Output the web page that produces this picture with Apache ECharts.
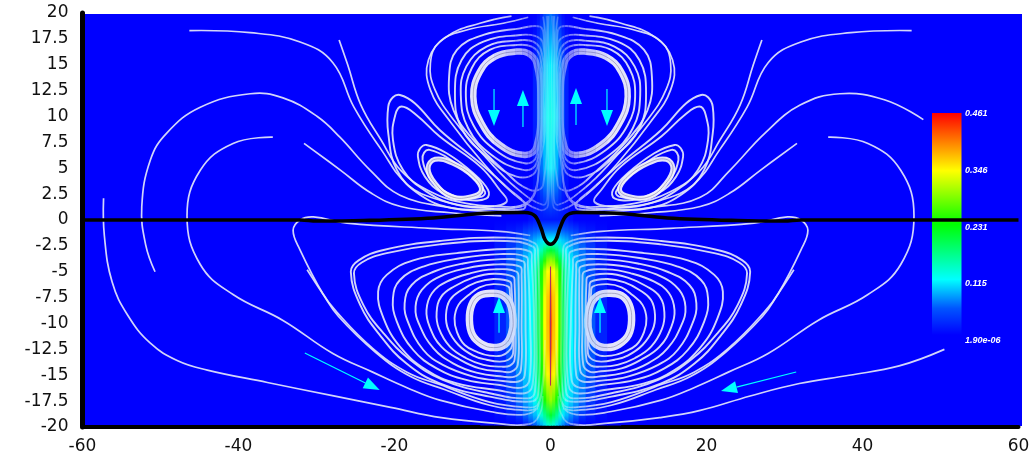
<!DOCTYPE html>
<html><head><meta charset="utf-8">
<style>html,body{margin:0;padding:0;background:#fff}#c{width:1036px;height:457px}</style>
<script src="https://cdn.jsdelivr.net/npm/echarts@6/dist/echarts.min.js"></script>
</head><body><div id="c"></div>
<script>
const xTicksMin=-60,xTicksMax=60,xInterval=20,yMin=-20,yMax=20,yInterval=2.5;
const legendValues=['0.461','0.346','0.231','0.115','1.90e-06'];
// surface: column offsets from x=0, row heights, magnitude per row
const fieldOffsets=[0,0.4,0.8,1.2,1.6,2,2.6,3.2,4,5,6.5,8];
const fieldRows=[20,15,10,5,2,0,-1,-2,-3,-4,-5,-7.5,-10,-12.5,-15,-17.5,-19,-20];
const fieldValues=[
[.05,.04,.03,.015,.005,0,0,0,0,0,0,0],
[.11,.10,.085,.06,.035,.015,0,0,0,0,0,0],
[.125,.12,.10,.07,.04,.015,0,0,0,0,0,0],
[.11,.10,.08,.05,.025,.01,0,0,0,0,0,0],
[.04,.035,.03,.02,.01,.005,0,0,0,0,0,0],
[.01,.01,.01,.01,.01,.01,.005,0,0,0,0,0],
[.05,.05,.05,.05,.04,.035,.03,.025,.015,.01,.004,0],
[.12,.115,.11,.1,.09,.08,.065,.05,.035,.02,.008,0],
[.21,.2,.18,.15,.13,.11,.09,.07,.05,.03,.012,0],
[.3,.29,.25,.2,.16,.13,.105,.085,.06,.035,.014,0],
[.36,.345,.31,.24,.18,.145,.115,.09,.065,.035,.014,0],
[.40,.37,.34,.25,.19,.15,.115,.095,.07,.04,.015,0],
[.42,.375,.345,.255,.195,.15,.115,.095,.07,.04,.015,0],
[.41,.37,.34,.25,.19,.15,.115,.095,.07,.04,.015,0],
[.37,.35,.31,.235,.18,.14,.11,.09,.065,.035,.014,0],
[.3,.28,.24,.19,.145,.12,.095,.075,.05,.025,.01,0],
[.21,.19,.165,.135,.105,.085,.065,.045,.025,.012,.004,0],
[.14,.13,.1,.08,.06,.04,.025,.01,0,0,0,0]];
// black interface curve
const interfaceX=[-60,-32,-30,-24,-15,-7.7,-3.3,-2,-1.2,-.7,0,.7,1.2,2,3.3,7.7,15,24,30,32,60];
const interfaceY=[0,0,-.1,-.05,.2,.68,.72,.4,-.8,-1.9,-2.35,-1.9,-.8,.4,.72,.68,.2,-.05,-.1,0,0];
// open streamlines
const up1=[[-46.3,18.3],[-38.5,18.1],[-32.1,17.2],[-27.9,15.2],[-25.2,10.9],[-21.7,6.8],[-18.3,3.4],[-14.1,1.9],[-8.9,1.2],[-4.4,1.2],[-2.5,1.9],[-1.6,3.9],[-1.2,9.7],[-.7,15.5],[-.3,19.7]];
const up2=[[-27.1,17.4],[-26,15],[-24.3,11.1],[-21.7,7.7],[-19.2,4.8],[-15.3,2.7],[-10.8,1.6],[-6.3,1.3],[-3.8,1.4],[-2.2,2.4],[-1.5,4.8],[-1.1,9.7],[-.6,15.5],[-.2,19.7]];
const big2Left=[[-50.7,-5],[-51.9,-2.4],[-52.4,1.3],[-51.3,5.8],[-49.2,8.4],[-44.9,10.9],[-38.5,12.2],[-34.3,11.8],[-29.9,10],[-27,8],[-23.1,4.8],[-19.3,2.4],[-12.9,1.2],[-7.8,.8],[-4.6,.7]];
const big2Right=[[47.8,9.7],[42.9,11.6],[37.1,12.2],[32,11.1],[27.5,8.4],[23,4.8],[19.2,2.2],[12.8,1.2],[7.6,.8],[4.4,.7]];
const up4=[[-31.6,7.4],[-26.9,4.8],[-23,2.6],[-19.2,1.3],[-12.8,.7],[-6.3,.4]];
const big3=[[-35.6,8],[-40.7,7.4],[-44.9,4.8],[-46.6,.4],[-44.9,-4.3],[-40.7,-7.2],[-34.3,-9.7],[-27.9,-12.9],[-22.8,-14.7],[-18.4,-16.2],[-14.2,-17.4],[-7.8,-18.5],[-3.3,-18.8],[-1.6,-18],[-.8,-14]];
const outerLeft=[[-57.3,2.1],[-57.2,-1.5],[-56.2,-6],[-54.2,-9.2],[-51.3,-11.9],[-47.8,-13.6],[-44,-14.5],[-36.3,-15.7],[-27.8,-17],[-20.5,-18.1],[-14,-19.1],[-7.7,-19.6],[-2.6,-19.7],[-1.3,-18.6],[-1,-17]];
const outerRight=[[50.5,-12.5],[44.7,-14.1],[38.3,-15],[31.9,-15.8],[25.6,-17],[19.2,-18.4],[14,-19.1],[7.7,-19.6],[2.6,-19.7],[1.3,-18.6],[1,-17]];
const separatrix=[[-2.6,-1.5],[-6.5,-1.1],[-15.4,-.8],[-26.1,-.3],[-30.4,.3],[-32.1,0],[-33,-1],[-32.1,-2.9],[-29.2,-7.1],[-27.4,-8.9],[-22.8,-12.4],[-18.4,-14.7],[-14.2,-15.9],[-7.8,-17.6],[-3,-18.1],[-1.7,-17.9],[-1.1,-16.4],[-.7,-11.6]];
const separatrix2=[[-31.2,-4.8],[-29.3,-7],[-27.2,-9.3],[-22.4,-12.8],[-18,-15.1],[-13.5,-16.4],[-7.8,-17.9],[-3.1,-18.4],[-1.6,-18.2]];
// upper cell, open ends at top
const capA=[[-2.85,19.59],[-6.05,19.01],[-10.75,18.36],[-14.2,17.23],[-15.4,15.14],[-14.8,12.57],[-12.25,9.51],[-8.2,5.97],[-4.35,3.07],[-.95,1.46],[-.4,2.26],[-.3,11.6],[-.6,17.4],[-.95,19.65]];
const capB=[[-5,19.7],[-9.05,19.01],[-13.3,17.72],[-15.65,15.46],[-15.4,12.57],[-12.7,9.35],[-8.6,5.48],[-4.8,2.58],[-1.35,.97],[-.3,1.46],[-.1,11.6],[-.3,18.04],[-.5,19.7]];
// closed cells, lower
const low1=[[-2,-2.25],[-5.6,-1.7],[-14.2,-2.03],[-21.4,-2.9],[-24.6,-3.9],[-25.6,-5],[-24.4,-8.2],[-21.9,-11.1],[-18.5,-13.85],[-14.2,-15.78],[-7.8,-17.07],[-2.6,-17.55],[-1.6,-16.9],[-1.4,-10.14],[-1.6,-3.4]];
const low2=[[-2.2,-2.6],[-5.6,-2.03],[-14.2,-2.35],[-21,-3.2],[-24.2,-4.1],[-25.2,-5.15],[-24,-8.2],[-21.4,-10.95],[-18,-13.5],[-13.8,-15.45],[-7.8,-16.74],[-2.9,-17.23],[-2,-16.58],[-1.8,-10.14],[-2,-3.55]];
const low3=[[-2.6,-3.06],[-5.6,-2.8],[-12,-3.2],[-17.6,-3.9],[-21,-5.3],[-22.1,-6.92],[-21.4,-9.5],[-19.3,-12.24],[-15.9,-14.5],[-12,-15.78],[-6.9,-16.42],[-3.3,-16.74],[-2.3,-15.94],[-2.1,-10.14],[-2.4,-4]];
const low4=[[-3.1,-3.55],[-6.5,-3.3],[-11.6,-3.7],[-16.3,-4.5],[-19.3,-5.8],[-20.2,-7.57],[-19.7,-9.82],[-17.6,-12.56],[-14.6,-14.33],[-10.8,-15.45],[-6.5,-15.94],[-3.7,-16.2],[-2.7,-15.45],[-2.6,-10.14],[-2.9,-4.35]];
const low5=[[-3.5,-4],[-6.9,-3.8],[-11.2,-4.2],[-15,-5],[-17.8,-6.28],[-18.7,-8.05],[-18.2,-9.98],[-16.3,-12.56],[-13.8,-14],[-9.9,-15.13],[-6.1,-15.55],[-4.1,-15.6],[-3.3,-15],[-3.2,-10.14],[-3.3,-4.83]];
const low6=[[-3.9,-4.5],[-7.3,-4.3],[-10.8,-4.67],[-14.2,-5.47],[-16.5,-6.76],[-17.3,-8.37],[-16.8,-10.14],[-15,-12.4],[-12.5,-13.85],[-9.5,-14.75],[-6.1,-15.13],[-4.6,-15.13],[-3.8,-14.5],[-3.7,-10.14],[-3.7,-5.3]];
const low7=[[-4.35,-5],[-7.3,-4.77],[-10.3,-5.15],[-13.3,-5.96],[-15.2,-7.08],[-15.9,-8.7],[-15.5,-10.3],[-14,-12.24],[-11.6,-13.5],[-9.1,-14.33],[-6.1,-14.65],[-5,-14.65],[-4.2,-14],[-4.1,-10.14],[-4.1,-5.8]];
const low8=[[-4.8,-5.47],[-7.3,-5.2],[-9.9,-5.57],[-12.3,-6.4],[-14,-7.4],[-14.6,-8.92],[-14.3,-10.5],[-12.9,-12.24],[-10.8,-13.36],[-8.6,-14],[-6.3,-14.17],[-5.2,-14.07],[-4.6,-13.5],[-4.5,-9.98],[-4.6,-6.1]];
const low9=[[-5.2,-5.96],[-7.3,-5.7],[-9.5,-6.02],[-11.4,-6.76],[-12.9,-7.73],[-13.4,-9.18],[-13.1,-10.6],[-11.8,-12.08],[-9.9,-13.1],[-8.2,-13.5],[-6.5,-13.68],[-5.4,-13.5],[-4.8,-12.88],[-4.8,-9.82],[-5,-6.6]];
const low10=[[-5.4,-6.44],[-7.3,-6.2],[-9.1,-6.5],[-10.5,-7.25],[-11.8,-8.2],[-12.3,-9.5],[-12,-10.8],[-11,-12.08],[-9.3,-12.78],[-7.8,-13.1],[-6.3,-13.1],[-5.4,-12.7],[-4.9,-12.08],[-4.9,-9.66],[-5.2,-7.08]];
const lowBand=[[-7.3,-7.08],[-9.1,-7.3],[-10.1,-8.2],[-10.4,-9.66],[-10,-11.1],[-8.8,-12],[-7.3,-12.33],[-5.8,-12],[-5,-10.95],[-4.8,-9.66],[-5.2,-8.05],[-6.1,-7.3]];
// closed cells, upper main
const upBand=[[-4.35,16.27],[-7.1,15.79],[-9.05,14.34],[-9.9,11.92],[-8.85,9.35],[-6.5,7.25],[-3.3,6.29],[-1.8,7.09],[-1.3,11.6],[-1.8,15.14],[-2.85,16.11]];
const upA=[[-4.35,16.91],[-7.8,16.43],[-10.1,14.66],[-10.85,11.92],[-9.9,9.18],[-7.1,6.77],[-3.3,5.48],[-1.8,6.13],[-.95,11.6],[-1.35,15.79],[-2.4,16.75]];
const upB=[[-4.35,17.33],[-8.2,16.75],[-10.8,14.82],[-11.5,12.08],[-10.55,8.86],[-7.55,6.29],[-3.5,4.84],[-1.8,5.48],[-.65,11.6],[-1.1,16.11],[-2.2,17.23]];
const upC=[[-3.9,17.88],[-8.6,17.23],[-11.4,15.46],[-12.25,12.24],[-11.4,8.86],[-8.2,6.13],[-4.35,4.19],[-1.8,4.84],[-.5,11.6],[-.95,17.07],[-2,17.78]];
const upD=[[-1.35,18.68],[-3.9,18.52],[-8.6,17.88],[-12,16.43],[-13,13.85],[-12.45,10.63],[-9.9,7.74],[-6.05,4.84],[-2.65,2.9],[-.95,3.39],[-.5,11.6],[-.85,17.72]];
// closed cells, small side vortex
const sideBand=[[-14.8,5.87],[-12.5,5.48],[-9.9,4.19],[-8.85,2.9],[-10.1,2.26],[-12.7,2.26],[-14.8,3.55],[-15.7,5]];
const side1=[[-15.9,7.25],[-13.3,6.45],[-9.9,4.52],[-8,2.9],[-8.2,2.1],[-10.8,1.94],[-13.8,2.58],[-16.1,4.19],[-17,6.13],[-16.7,6.93]];
const side2=[[-15.5,6.77],[-13.1,5.97],[-10.1,4.19],[-8.4,2.74],[-8.8,2.26],[-11.2,2.1],[-13.8,2.9],[-15.7,4.36],[-16.4,5.8],[-16.2,6.51]];
const side3=[[-19.1,10.96],[-17.2,10.15],[-14.2,8.06],[-9,5.16],[-6.5,2.9],[-5.6,1.78],[-7.8,1.3],[-12,1.46],[-15.9,2.74],[-18.9,4.84],[-20.2,7.74],[-19.9,10.15]];
const side4=[[-19.3,12.08],[-17.4,11.28],[-14.2,8.7],[-9,5.48],[-5.2,2.9],[-3.3,1.62],[-3.5,1.04],[-7.8,1.04],[-12.5,1.14],[-16.7,2.42],[-19.7,4.84],[-20.8,8.38],[-20.8,10.96],[-20.2,11.86]];
// centre thread
const thread=[[0,-4.5],[0,-16]];
// flow arrows: tail x, tail y, tip x, tip y
const arrows=[[-6.6,-10.9,-6.6,-7.44],[6.35,-10.9,6.35,-7.44],[-7.24,12.66,-7.24,9.08],[-3.53,8.99,-3.53,12.56],[3.27,9.18,3.27,12.75],[7.24,12.66,7.24,9.08],[-31.5,-12.85,-21.9,-16.43],[31.5,-14.69,21.86,-16.52]];

const mirror=p=>p.map(([x,y])=>[-x,y]);
const LINE='#e2e5fa';
const streams=[];
const add=(pts,closed,width,color)=>streams.push({pts,closed,width:width||1.7,color:color||LINE});
[up1,up2,up4,big3,separatrix,separatrix2,capA,capB].forEach(p=>{add(p,false);add(mirror(p),false);});
[big2Left,big2Right,outerLeft,outerRight].forEach(p=>add(p,false));
[low1,low2,low3,low4,low5,low6,low7,low8,low9,low10,upA,upB,upC,upD,side1,side2,side3,side4].forEach(p=>{add(p,true,1.9);add(mirror(p),true,1.9);});
[[lowBand,7.5],[upBand,6.5],[sideBand,5]].forEach(([p,w])=>{
  [p,mirror(p)].forEach(d=>{add(d,true,w,'#f4f4fb');add(d,true,.7,'#8a8aa8');});
});

const series=[];
// surface
const cmapV=[0,.115,.231,.346,.461],cmapC=[[0,0,255],[0,255,255],[0,255,0],[255,255,0],[255,0,0]];
function cmap(v){
  let i=0;while(i<3&&v>cmapV[i+1])i++;
  const t=Math.min(1,Math.max(0,(v-cmapV[i])/(cmapV[i+1]-cmapV[i])));
  const c=cmapC[i].map((a,k)=>Math.round(a+(cmapC[i+1][k]-a)*t));
  return `rgb(${c[0]},${c[1]},${c[2]})`;
}
const strips=[];
fieldOffsets.forEach((o,i)=>{
  const a=i===0?0:(fieldOffsets[i-1]+o)/2;
  const b=i===fieldOffsets.length-1?o+1:(fieldOffsets[i+1]+o)/2;
  strips.push([a,b,i]);strips.push([-b,-a,i]);
});
const veilAlpha=[.75,.72,.68,.62,.55,.5,.42,.32,.22,.14,.07,0];
function stripItem(api,opacity){
  const col=api.value(2);
  const p0=api.coord([api.value(0),yMax]),p1=api.coord([api.value(1),yMin]);
  const stops=fieldRows.map((y,r)=>({offset:(yMax-y)/(yMax-yMin),color:cmap(fieldValues[r][col])}));
  return {type:'rect',shape:{x:p0[0],y:p0[1]+1,width:p1[0]-p0[0]+.5,height:p1[1]-p0[1]-2.5},
    style:{fill:new echarts.graphic.LinearGradient(0,0,0,1,stops),opacity}};
}
series.push({type:'custom',coordinateSystem:'cartesian2d',data:strips,z:2,silent:true,animation:false,clip:true,
  encode:{x:[0,1]},renderItem(params,api){return stripItem(api,1);}});
// streamlines, mapped through the axes
series.push({type:'custom',coordinateSystem:'cartesian2d',data:streams.map((s,i)=>[i]),z:3,silent:true,animation:false,clip:true,
  encode:{},
  renderItem(params,api){
    const s=streams[api.value(0)];
    const points=s.pts.map(p=>api.coord(p));
    return {type:s.closed?'polygon':'polyline',shape:{points,smooth:.42},
      style:{fill:null,stroke:s.color,lineWidth:s.width,opacity:.93}};
  }});
// surface colour showing through the lines near the axis of symmetry
series.push({type:'custom',coordinateSystem:'cartesian2d',data:strips,z:4,silent:true,animation:false,clip:true,
  encode:{x:[0,1]},renderItem(params,api){return stripItem(api,veilAlpha[api.value(2)]);}});
// centre thread
series.push({type:'line',data:thread,showSymbol:false,symbol:'none',z:5,silent:true,animation:false,lineStyle:{color:'#b0305a',width:1}});
// black interface
series.push({type:'line',data:interfaceX.map((x,i)=>[x,interfaceY[i]]),showSymbol:false,symbol:'none',smooth:.35,z:6,silent:true,animation:false,
  lineStyle:{color:'#000',width:3.6}});
// arrows
series.push({type:'custom',coordinateSystem:'cartesian2d',data:arrows,z:7,silent:true,animation:false,clip:false,encode:{x:[0,2],y:[1,3]},
  renderItem(params,api){
    const a=api.coord([api.value(0),api.value(1)]),b=api.coord([api.value(2),api.value(3)]);
    const dx=b[0]-a[0],dy=b[1]-a[1],n=Math.hypot(dx,dy),ux=dx/n,uy=dy/n,L=16,W=6;
    const bx=b[0]-ux*L,by=b[1]-uy*L;
    return {type:'group',children:[
      {type:'line',shape:{x1:a[0],y1:a[1],x2:bx,y2:by},style:{stroke:'#00ffff',lineWidth:1.2}},
      {type:'polygon',shape:{points:[[b[0],b[1]],[bx-uy*W,by+ux*W],[bx+uy*W,by-ux*W]]},style:{fill:'#00ffff'}}
    ]};
  }});

const legendYs=[113.5,171,228,284,341];
const graphicEls=[
  {type:'rect',z:-1,shape:{x:85,y:14,width:937,height:412},style:{fill:'#0000ff'},silent:true},
  {type:'rect',z:1,shape:{x:932,y:113,width:29.5,height:222},silent:true,
    style:{fill:new echarts.graphic.LinearGradient(0,0,0,1,[
      {offset:0,color:'#ff0000'},{offset:.26,color:'#ffff00'},{offset:.5,color:'#00ff00'},
      {offset:.75,color:'#00ffff'},{offset:.88,color:'#0055ff'},{offset:1,color:'#0000ff'}])}}
];
legendValues.forEach((t,i)=>graphicEls.push({type:'text',z:1,x:965,y:legendYs[i],silent:true,
  style:{text:t,fill:'#fff',font:'italic bold 9px "Liberation Sans"',textVerticalAlign:'middle',
    textShadowColor:'#111',textShadowBlur:0,textShadowOffsetX:1,textShadowOffsetY:1}}));

const chart=echarts.init(document.getElementById('c'),null,{renderer:'canvas'});
chart.setOption({
  animation:false,backgroundColor:'#fff',
  grid:{left:82.5,right:17.5,top:13,bottom:30,containLabel:false},
  xAxis:{type:'value',min:xTicksMin,max:xTicksMax,interval:xInterval,
    axisLine:{show:true,onZero:false,lineStyle:{color:'#000',width:4}},axisTick:{show:false},splitLine:{show:false},
    axisLabel:{color:'#111',fontFamily:'DejaVu Sans',fontSize:17,margin:11}},
  yAxis:{type:'value',min:yMin,max:yMax,interval:yInterval,
    axisLine:{show:true,onZero:false,lineStyle:{color:'#000',width:5}},axisTick:{show:false},splitLine:{show:false},
    axisLabel:{color:'#111',fontFamily:'DejaVu Sans',fontSize:17,margin:14}},
  graphic:{elements:graphicEls},
  series
});
</script></body></html>
